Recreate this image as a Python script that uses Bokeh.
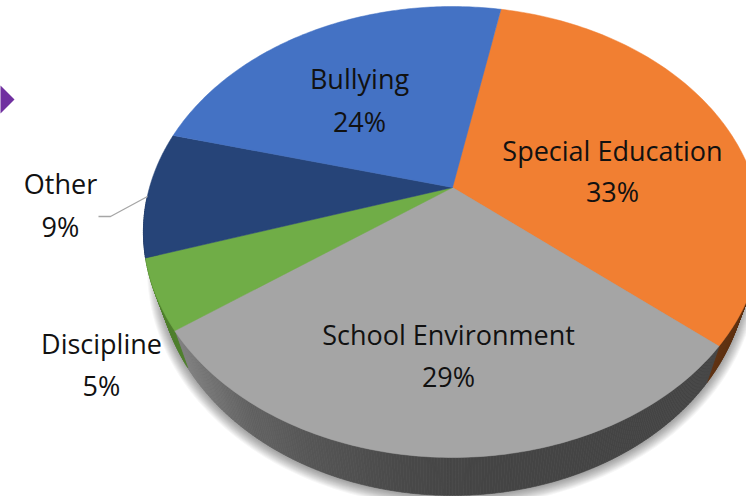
import numpy as np
from bokeh.core.properties import value
from bokeh.embed import file_html
from bokeh.models import ColumnDataSource, Range1d
from bokeh.plotting import figure
from bokeh.resources import INLINE

# Chart values, clockwise from the Special Education slice
categories = ["Special Education", "School Environment", "Discipline", "Other", "Bullying"]
shares = [33, 29, 5, 9, 24]
slice_colors = ["#f17f32", "#a5a5a5", "#70ad47", "#264478", "#4472c4"]
side_colors = ["#5e3010", None, "#4f7f2e", "#1a2f52", "#2d4e88"]

# Label anchors in pixels: name line centre x, name line y, percent line y
label_x = [612, 448, 101, 60, 359]
name_y = [150, 334, 343, 183, 78]
share_y = [191, 376, 385, 226, 121]

WIDTH, HEIGHT = 746, 496
START_DEG = 11.0          # first slice edge, clockwise from the back of the pie
APEX = (452.0, 187.0)     # where the slices meet on the tilted top face
K, A, B = 0.1973, 303.0, 216.7  # perspective strength and horizontal / vertical scale


def rim(deg):
    """Project a circle angle (clockwise from the back) onto the tilted top face."""
    r = np.radians(deg)
    u, v = np.sin(r), np.cos(r)
    d = 1 + K * v
    return APEX[0] + A * u / d, APEX[1] - B * v / d


# Outline ellipses of the top face and of the underside of the disc
top_y, bottom_y = rim(0)[1], rim(180)[1]
TOP_E = (APEX[0], (top_y + bottom_y) / 2, A / np.sqrt(1 - K ** 2), (bottom_y - top_y) / 2)
LOW_E = (APEX[0], 268.0, 294.4, 227.0)


def ell(e, t, grow=0.0):
    return e[0] + (e[2] + grow) * np.cos(t), e[1] + (e[3] + grow) * np.sin(t)


p = figure(width=WIDTH, height=HEIGHT, output_backend="svg", toolbar_location=None,
           x_range=Range1d(0, WIDTH), y_range=Range1d(HEIGHT, 0), min_border=0,
           background_fill_color="white", border_fill_color="white", outline_line_color=None)
p.axis.visible = False
p.grid.visible = False

# Decorative purple marker at the page edge
p.patch([-14, 0, 14, 0], [99, 85, 99, 113], fill_color="#7030a0", line_color=None)

# Soft drop shadow under the disc, stacked from wide and faint to narrow
for grow in np.linspace(11, 1, 11):
    tt = np.linspace(0, 2 * np.pi, 240)
    sx, sy = ell(LOW_E, tt, grow)
    p.patch(sx, sy + 1, fill_color="#000000", fill_alpha=0.035, line_color=None)

# Slice edges derived from the shares
edges = START_DEG + np.concatenate([[0], np.cumsum(shares)]) * 3.6


def screen_t(deg):
    x, y = rim(deg)
    return np.arctan2((y - TOP_E[1]) / TOP_E[3], (x - TOP_E[0]) / TOP_E[2]) % (2 * np.pi)


def side_color(t):
    """Wall colour at ellipse parameter t, shaded from left to right on the grey slice."""
    for i in range(len(shares)):
        t0, t1 = screen_t(edges[i]), screen_t(edges[i + 1])
        inside = t0 <= t < t1 if t0 < t1 else (t >= t0 or t < t1)
        if inside:
            if side_colors[i] is not None:
                return side_colors[i]
            x = ell(TOP_E, t)[0]
            g = int(np.interp(x, [177, 240, 307, 407, 500], [0x80, 0x64, 0x56, 0x49, 0x44]))
            return f"#{g:02x}{g:02x}{g:02x}"
    return "#444444"


# Rounded wall of the disc as thin quads between the two ellipses
ts = np.linspace(-0.15, np.pi + 0.15, 361)
wall = {"xs": [], "ys": [], "c": []}
for a, b in zip(ts[:-1], ts[1:]):
    x0, y0 = ell(TOP_E, a)
    x1, y1 = ell(TOP_E, b)
    x2, y2 = ell(LOW_E, b)
    x3, y3 = ell(LOW_E, a)
    wall["xs"].append([x0, x1, x2, x3])
    wall["ys"].append([y0, y1, y2, y3])
    wall["c"].append(side_color(((a + b) / 2) % (2 * np.pi)))
p.patches("xs", "ys", source=ColumnDataSource(wall), fill_color="c", line_color="c", line_width=0.6)

# Top face slices
for i, color in enumerate(slice_colors):
    angles = np.linspace(edges[i], edges[i + 1], 120)
    rx, ry = rim(angles)
    p.patch(np.r_[APEX[0], rx], np.r_[APEX[1], ry], fill_color=color, line_color=color, line_width=0.5)

# Leader line for the Other label
p.line([98, 110, 147], [216, 216, 196], line_color="#a6a6a6", line_width=1.3)

# Two-line labels: category name above its percentage
font = value("Open Sans")
p.text(label_x, name_y, text=categories, text_font=font, text_font_size="27px",
       text_color="#111111", text_align="center", text_baseline="middle")
p.text(label_x, share_y, text=[f"{s}%" for s in shares], text_font=font, text_font_size="27px",
       text_color="#111111", text_align="center", text_baseline="middle")

open("out.html", "w").write(file_html(p, INLINE))
